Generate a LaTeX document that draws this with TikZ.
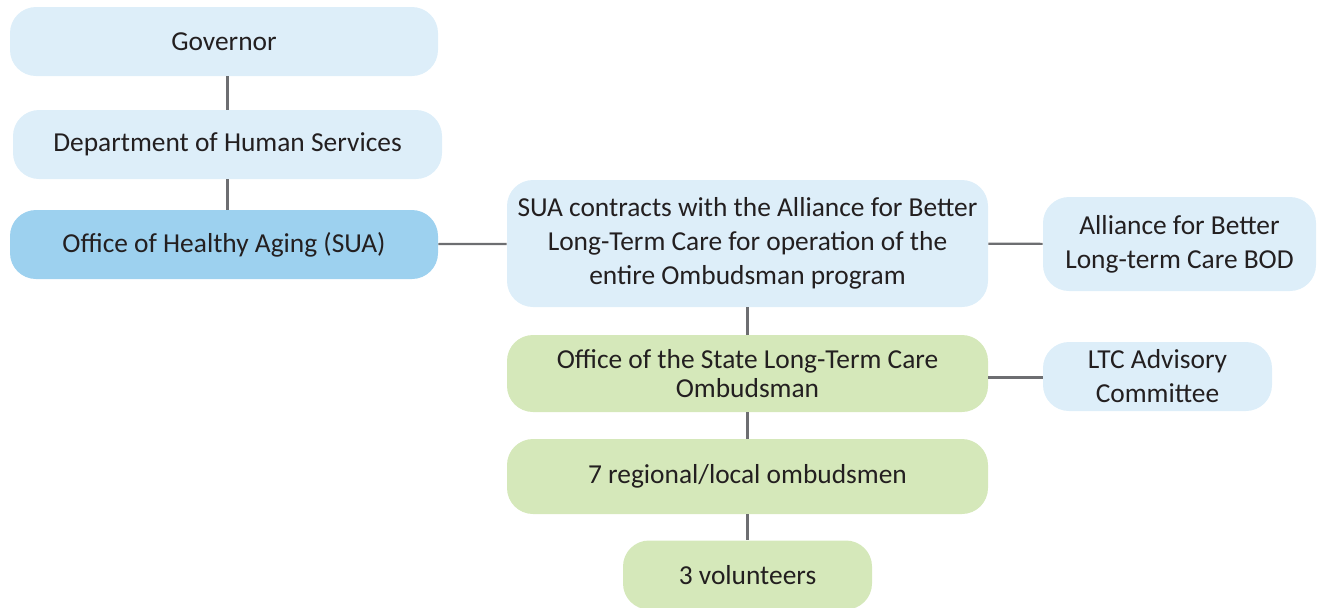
\documentclass[tikz,border=0pt]{standalone}
\usepackage{fontspec}
\setmainfont{Carlito}
\usetikzlibrary{positioning}
\definecolor{boxBlue}{HTML}{DDEEF9}
\definecolor{boxSua}{HTML}{9DD1EF}
\definecolor{boxGreen}{HTML}{D5E8BA}
\definecolor{linkGray}{HTML}{6D6E71}
\definecolor{txtDark}{HTML}{231F20}
\newcommand{\OrgFont}{\fontsize{13.7}{17}\selectfont}

\begin{document}
\begin{tikzpicture}[
  x=0.5pt, y=-0.5pt,
  font=\OrgFont, text=txtDark,
  unit/.style  = {rounded corners=13pt, inner sep=0pt, align=center},
  upper/.style = {unit, fill=boxBlue},
  sua/.style   = {unit, fill=boxSua},
  field/.style = {unit, fill=boxGreen},
  link/.style  = {draw=linkGray, line width=1.1pt},
]
\clip (0,0) rectangle (1319,607);

% ---------------------------------------------------------------- state chain
\node[upper, minimum width=214pt, minimum height=34.5pt] (gov) at (224,41.5) {Governor};
\node[upper, minimum width=214.5pt, minimum height=34.5pt] (dhs) at (227.5,144.5) {Department of Human Services};
\node[sua, minimum width=214pt, minimum height=34.5pt] (oha) at (224,244.5) {Office of Healthy Aging (SUA)};

% ---------------------------------------------------------------- ombudsman program
\node[upper, minimum width=240.5pt, minimum height=63.5pt] (contract) at (747.5,243.5)
  {SUA contracts with the Alliance for Better\\Long-Term Care for operation of the\\entire Ombudsman program};
\node[upper, minimum width=136.5pt, minimum height=47pt] (bod) at (1179.5,244)
  {Alliance for Better\\Long-term Care BOD};
\node[field, minimum width=240.5pt, minimum height=38.5pt, font=\fontsize{13.7}{14.5}\selectfont] (state) at (747.5,373.5)
  {Office of the State Long-Term Care\\Ombudsman};
\node[upper, minimum width=114.5pt, minimum height=34.5pt] (adv) at (1157.5,376.5)
  {LTC Advisory\\Committee};
\node[field, minimum width=240.5pt, minimum height=37.5pt] (local) at (747.5,476.5) {7 regional/local ombudsmen};
\node[field, minimum width=124.5pt, minimum height=34.5pt] (vol) at (747.5,575) {3 volunteers};

% ---------------------------------------------------------------- connectors
\coordinate (advlink) at ([yshift=-2pt]state.east);
\draw[link] (gov.south -| dhs) -- (dhs);
\draw[link] (dhs) -- (dhs |- oha.north);
\draw[link] (oha) -- (contract);
\draw[link] (contract) -- (bod);
\draw[link] (contract) -- (state);
\draw[link] (advlink) -- (advlink -| adv.west);
\draw[link] (state) -- (local);
\draw[link] (local) -- (vol);
\end{tikzpicture}
\end{document}
